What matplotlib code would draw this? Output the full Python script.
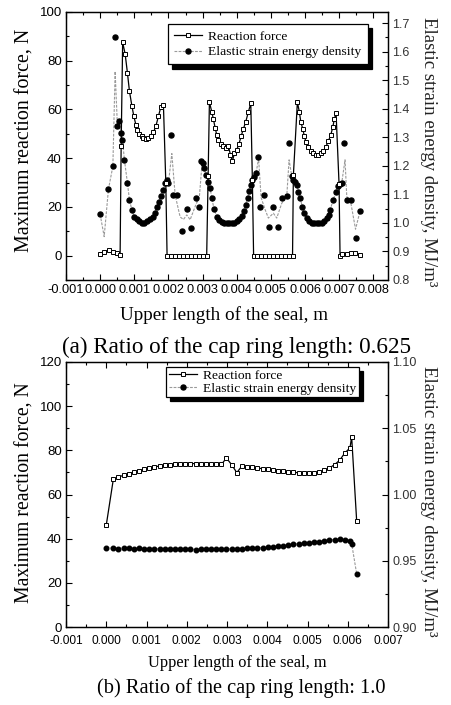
import matplotlib
matplotlib.use('Agg')
import matplotlib.pyplot as plt
from matplotlib.lines import Line2D
from matplotlib.ticker import MultipleLocator, FuncFormatter
import numpy as np

# ---------------- panel (a): ratio 0.625 ----------------
a_force_x_mm = [0.000, 0.126, 0.272, 0.389, 0.489, 0.585,
                0.615, 0.659, 0.732, 0.799, 0.858, 0.928, 0.987, 1.045, 1.092, 1.150, 1.221, 1.268, 1.347, 1.414,
                1.493, 1.560, 1.631, 1.707, 1.777, 1.853, 1.923,
                1.960, 2.076, 2.192, 2.308, 2.424, 2.540, 2.656, 2.772, 2.888, 3.004, 3.120,
                3.162, 3.200, 3.270, 3.317, 3.367, 3.416, 3.463, 3.533, 3.609, 3.680, 3.756, 3.814, 3.873, 3.931,
                4.002, 4.069, 4.128, 4.195, 4.265, 4.341, 4.412, 4.458,
                4.494, 4.608, 4.722, 4.836, 4.950, 5.064, 5.178, 5.292, 5.406, 5.520, 5.634,
                5.659, 5.776, 5.834, 5.875, 5.934, 5.981, 6.030, 6.098, 6.168, 6.244, 6.315, 6.390, 6.461, 6.537,
                6.607, 6.683, 6.754, 6.812, 6.859, 6.909, 6.996,
                7.026, 7.076, 7.222, 7.339, 7.465, 7.611]
a_force = [0.8, 1.5, 2.5, 1.5, 1.1, 0.4,
           45, 87.5, 82.8, 75, 67.5, 61.6, 57.2, 53.8, 51.7, 50, 49, 48.3, 48, 48.3,
           49, 50.6, 53.1, 57.2, 61, 62, 30,
           0, 0, 0, 0, 0, 0, 0, 0, 0, 0, 0,
           32.6, 63, 59, 56, 52.5, 49.5, 47.5, 46, 45, 44, 45, 41.5, 38.7, 42,
           43.5, 46, 49, 52, 55, 59, 62.5, 31,
           0, 0, 0, 0, 0, 0, 0, 0, 0, 0, 0,
           33, 63, 59, 55, 52, 49, 46.5, 44.5, 43, 42, 41.5, 41.5, 42, 43,
           44.5, 47, 49.5, 52.7, 56, 58.6, 29.6,
           0, 0.5, 0.8, 1.2, 0.9, 0.4]

a_energy_x_mm = [0.000, 0.243, 0.372, 0.439, 0.506, 0.556, 0.606, 0.653, 0.711, 0.799, 0.858, 0.928, 0.995, 1.074,
                 1.150, 1.221, 1.297, 1.385, 1.464, 1.543, 1.610, 1.660, 1.727, 1.786, 1.853, 1.903, 1.953, 2.000,
                 2.070, 2.128, 2.245, 2.409, 2.538, 2.664, 2.802, 2.907,
                 2.948, 3.006, 3.044, 3.094, 3.170, 3.220, 3.270, 3.337, 3.416, 3.484, 3.557, 3.630, 3.703, 3.776,
                 3.850, 3.923, 3.996, 4.069, 4.142, 4.201, 4.259, 4.318, 4.362, 4.412, 4.458, 4.517, 4.567,
                 4.634, 4.684, 4.810, 4.947, 5.073, 5.202, 5.337, 5.465, 5.533,
                 5.612, 5.659, 5.708, 5.758, 5.805, 5.855, 5.922, 5.981, 6.045, 6.118, 6.191, 6.265, 6.338, 6.411,
                 6.484, 6.557, 6.631, 6.689, 6.733, 6.830, 6.900, 6.976, 7.026, 7.076,
                 7.143, 7.222, 7.339, 7.494, 7.611]
a_energy = [1.030, 1.118, 1.198, 1.651, 1.338, 1.356, 1.315, 1.291, 1.221, 1.140, 1.081, 1.046, 1.022, 1.013,
            1.005, 1.001, 1.001, 1.005, 1.013, 1.022, 1.036, 1.055, 1.075, 1.093, 1.116, 1.140, 1.151, 1.140,
            1.309, 1.098, 1.098, 0.973, 1.048, 0.982, 1.087, 1.057,
            1.217, 1.209, 1.192, 1.169, 1.145, 1.122, 1.087, 1.048, 1.022, 1.011, 1.003, 0.999, 0.999, 0.999,
            0.999, 1.001, 1.005, 1.013, 1.025, 1.042, 1.064, 1.089, 1.111, 1.132, 1.149, 1.162, 1.175,
            1.230, 1.057, 1.098, 0.987, 1.057, 0.987, 1.087, 1.094, 1.280,
            1.163, 1.151, 1.145, 1.134, 1.110, 1.087, 1.057, 1.034, 1.017, 1.006, 1.001, 0.999, 0.999, 0.999,
            1.001, 1.006, 1.017, 1.029, 1.046, 1.081, 1.110, 1.129, 1.137, 1.141,
            1.280, 1.081, 1.081, 0.947, 1.041]

# grey connecting curve of the energy density series
a_eline_x_mm = [0.000, 0.118, 0.243, 0.372, 0.439, 0.506, 0.556, 0.606, 0.653, 0.711, 0.799, 0.858, 0.928, 0.995,
                1.074, 1.150, 1.221, 1.297, 1.385, 1.464, 1.543, 1.610, 1.660, 1.727, 1.786, 1.853, 1.903, 1.953, 2.000,
                2.099, 2.196, 2.342, 2.440, 2.538, 2.635, 2.781, 2.907, 2.977,
                3.006, 3.044, 3.094, 3.170, 3.220, 3.270, 3.337, 3.416, 3.484, 3.557, 3.630, 3.703, 3.776,
                3.850, 3.923, 3.996, 4.069, 4.142, 4.201, 4.259, 4.318, 4.362, 4.412, 4.458, 4.517, 4.567,
                4.640, 4.713, 4.830, 4.927, 5.073, 5.172, 5.319, 5.465, 5.533,
                5.612, 5.659, 5.708, 5.758, 5.805, 5.855, 5.922, 5.981, 6.045, 6.118, 6.191, 6.265, 6.338, 6.411,
                6.484, 6.557, 6.631, 6.689, 6.733, 6.830, 6.900, 6.976, 7.026, 7.076,
                7.172, 7.222, 7.339, 7.479, 7.611]
a_eline = [1.030, 0.952, 1.118, 1.198, 1.531, 1.338, 1.356, 1.315, 1.291, 1.221, 1.140, 1.081, 1.046, 1.022,
           1.013, 1.005, 1.001, 1.001, 1.005, 1.013, 1.022, 1.036, 1.055, 1.075, 1.093, 1.116, 1.140, 1.151, 1.140,
           1.243, 1.098, 1.021, 1.012, 1.028, 1.011, 1.057, 1.093, 1.198,
           1.209, 1.192, 1.169, 1.145, 1.122, 1.087, 1.048, 1.022, 1.011, 1.003, 0.999, 0.999, 0.999,
           0.999, 1.001, 1.005, 1.013, 1.025, 1.042, 1.064, 1.089, 1.111, 1.132, 1.149, 1.162, 1.175,
           1.226, 1.089, 1.047, 1.017, 1.034, 1.017, 1.069, 1.093, 1.221,
           1.163, 1.151, 1.145, 1.134, 1.110, 1.087, 1.057, 1.034, 1.017, 1.006, 1.001, 0.999, 0.999, 0.999,
           1.001, 1.006, 1.017, 1.029, 1.046, 1.081, 1.110, 1.129, 1.137, 1.141,
           1.221, 1.093, 1.072, 0.978, 1.041]

# ---------------- panel (b): ratio 1.0 ----------------
b_x_mm = [0.000, 0.176, 0.304, 0.431, 0.559, 0.687, 0.815, 0.943, 1.070, 1.198, 1.326, 1.454, 1.582, 1.709,
          1.837, 1.965, 2.093, 2.221, 2.348, 2.476, 2.604, 2.732, 2.860, 2.987, 3.115, 3.243, 3.371, 3.498,
          3.626, 3.754, 3.882, 4.010, 4.138, 4.265, 4.393, 4.521, 4.649, 4.777, 4.904, 5.032, 5.160, 5.288,
          5.416, 5.543, 5.671, 5.799, 5.927, 6.055, 6.097, 6.222]
b_force = [46.1, 66.9, 67.9, 68.7, 69.4, 70.2, 70.8, 71.4, 72.0, 72.5, 72.9, 73.2, 73.5, 73.6,
           73.7, 74.0, 74.0, 74.0, 74.0, 73.9, 73.8, 73.7, 73.6, 76.5, 73.5, 69.9, 72.9, 72.6,
           72.3, 72.0, 71.7, 71.4, 71.1, 70.8, 70.5, 70.2, 70.0, 69.9, 69.7, 69.7, 69.9, 70.2,
           70.9, 72.0, 73.5, 75.5, 78.8, 81.1, 86.1, 47.9]
b_energy = [0.9595, 0.9595, 0.9592, 0.9597, 0.9594, 0.9590, 0.9593, 0.9590, 0.9589, 0.9591, 0.9588, 0.9590,
            0.9586, 0.9589, 0.9586, 0.9585, 0.9588, 0.9584, 0.9587, 0.9585, 0.9589, 0.9586, 0.9590, 0.9588,
            0.9590, 0.9592, 0.9591, 0.9594, 0.9596, 0.9600, 0.9598, 0.9603, 0.9607, 0.9610, 0.9614, 0.9618,
            0.9624, 0.9628, 0.9633, 0.9636, 0.9642, 0.9645, 0.9650, 0.9656, 0.9660, 0.9661, 0.9660, 0.9652,
            0.9630, 0.9400]

force_label = 'Reaction force'
energy_label = 'Elastic strain energy density'
xlabel = 'Upper length of the seal, m'
ylabel_left = 'Maximum reaction force, N'
ylabel_right = 'Elastic strain energy density, MJ/m³'
caption_a = '(a) Ratio of the cap ring length: 0.625'
caption_b = '(b) Ratio of the cap ring length: 1.0'

SERIF = 'Liberation Serif'
SANS = 'Liberation Sans'
plt.rcParams['font.family'] = SANS

W, H = 451, 705
fig = plt.figure(figsize=(W / 100, H / 100), dpi=100)
fig.patch.set_facecolor('white')


def frame(l, t, r, b):
    return [l / W, 1 - b / H, (r - l) / W, (b - t) / H]


def mm(v):
    return np.asarray(v) * 1e-3


def style(ax, axr, ymajor, rmajor, rfmt, xsize, xpad):
    for a in (ax, axr):
        for s in a.spines.values():
            s.set_linewidth(0.9)
    ax.xaxis.set_major_locator(MultipleLocator(0.001))
    ax.xaxis.set_minor_locator(MultipleLocator(0.0005))
    ax.yaxis.set_major_locator(MultipleLocator(ymajor))
    ax.yaxis.set_minor_locator(MultipleLocator(ymajor / 2))
    axr.yaxis.set_major_locator(MultipleLocator(rmajor))
    axr.yaxis.set_minor_locator(MultipleLocator(rmajor / 2))
    ax.xaxis.set_major_formatter(FuncFormatter(lambda v, p: '%.3f' % v if abs(v) > 1e-9 else '0.000'))
    ax.yaxis.set_major_formatter(FuncFormatter(lambda v, p: '%d' % round(v)))
    axr.yaxis.set_major_formatter(FuncFormatter(lambda v, p: rfmt % v))
    ax.tick_params(axis='x', which='both', direction='in', top=True, bottom=True, labelsize=xsize, pad=xpad)
    ax.tick_params(axis='y', which='both', direction='in', left=True, right=False, labelsize=9.5, pad=3)
    axr.tick_params(axis='y', which='both', direction='in', right=True, left=False, labelsize=9.0, pad=3,
                    labelcolor='#333333')
    for a in (ax, axr):
        a.tick_params(which='major', length=4, width=0.8)
        a.tick_params(which='minor', length=2.2, width=0.8)


def draw(ax, axr, fx, fy, ex, ey, lx, ly, ms_e):
    axr.plot(mm(lx), ly, color='#9a9a9a', lw=0.8, ls=(0, (2.5, 1.2)), zorder=2)
    axr.plot(mm(ex), ey, ls='none', marker='o', ms=ms_e, mfc='black', mec='black', zorder=3)
    ax.plot(mm(fx), fy, color='black', lw=0.9, marker='s', ms=3.4, mfc='white', mec='black', mew=0.7, zorder=4)


def legend(ax, x0, y0, size, spacing, bpad):
    handles = [Line2D([], [], color='black', lw=0.9, marker='s', ms=3.4, mfc='white', mec='black', mew=0.7),
               Line2D([], [], color='#9a9a9a', lw=0.8, ls=(0, (2.5, 1.2)), marker='o', ms=3.6,
                      mfc='black', mec='black')]
    lg = ax.legend(handles, [force_label, energy_label], loc='upper left', bbox_to_anchor=(x0, y0),
                   borderaxespad=0, frameon=True, fancybox=False, handlelength=2.1, handletextpad=0.45,
                   labelspacing=spacing, borderpad=bpad, prop={'family': SERIF, 'size': size},
                   shadow={'ox': 3, 'oy': -3, 'color': 'black', 'alpha': 1})
    lg.get_frame().set_edgecolor('black')
    lg.get_frame().set_linewidth(0.9)
    lg.set_zorder(10)


# ---- panel (a)
ax1 = fig.add_axes(frame(66, 12, 388, 280))
ax1r = ax1.twinx()
ax1.set_xlim(-0.001, 0.00843)
ax1.set_ylim(-10, 100)
ax1r.set_ylim(0.8, 1.739)
style(ax1, ax1r, 20, 0.1, '%.1f', 9.2, 3)
draw(ax1, ax1r, a_force_x_mm, a_force, a_energy_x_mm, a_energy, a_eline_x_mm, a_eline, 3.6)
ax1.set_zorder(ax1r.get_zorder() + 1)
ax1.patch.set_visible(False)
legend(ax1, 0.317, 0.955, 9.7, 0.25, 0.45)

# ---- panel (b)
ax2 = fig.add_axes(frame(66, 362, 388, 627))
ax2r = ax2.twinx()
ax2.set_xlim(-0.001, 0.007)
ax2.set_ylim(0, 120)
ax2r.set_ylim(0.90, 1.10)
style(ax2, ax2r, 20, 0.05, '%.2f', 8.6, 6)
draw(ax2, ax2r, b_x_mm, b_force, b_x_mm, b_energy, b_x_mm, b_energy, 3.3)
ax2.set_zorder(ax2r.get_zorder() + 1)
ax2.patch.set_visible(False)
legend(ax2, 0.311, 0.981, 9.7, 0.02, 0.18)


def ftext(x, y, s, **kw):
    fig.text(x / W, 1 - y / H, s, ha='center', va='center', family=SERIF, **kw)


ftext(25, 140, ylabel_left, size=14.4, rotation=90)
ftext(428, 152, ylabel_right, size=13.5, rotation=270, color='#222222')
ftext(224, 315, xlabel, size=13.8)
ftext(237, 347, caption_a, size=16.7)

ftext(25, 493, ylabel_left, size=14.2, rotation=90)
ftext(428, 501, ylabel_right, size=13.6, rotation=270, color='#222222')
ftext(237, 663, xlabel, size=11.8)
ftext(241, 688, caption_b, size=14.7)

fig.savefig('out.png', dpi=100, facecolor='white')
